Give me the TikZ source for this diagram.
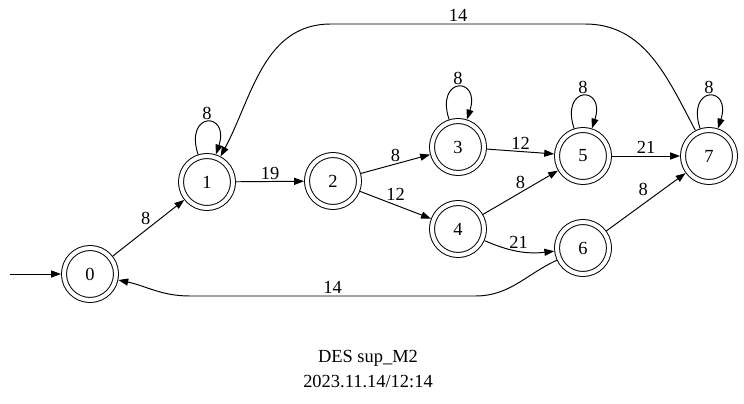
\documentclass[tikz,border=0pt]{standalone}
\usepackage{fontspec}
\setmainfont{Liberation Serif}
\usetikzlibrary{arrows.meta}
\tikzset{
  state/.style={shape=circle,draw,double,double distance=2.3pt,line width=0.55pt,minimum size=1.04cm,inner sep=0pt,outer sep=1.7pt},
  trans/.style={-{Triangle[length=5.6pt,width=4pt]},line width=0.55pt},
  lbl/.style={inner sep=1pt}
}
\begin{document}
\begin{tikzpicture}[x=0.02cm,y=0.02cm,font=\fontsize{10.5}{12}\selectfont]
\useasboundingbox (0,0) rectangle (744,403);
\node[state](q0) at (90,129){0};
\node[state](q1) at (207,221){1};
\node[state](q2) at (333,222){2};
\node[state](q3) at (458,256){3};
\node[state](q4) at (458,174){4};
\node[state](q5) at (583,247){5};
\node[state](q6) at (583,155){6};
\node[state](q7) at (709,247){7};
\coordinate(init) at (10,129);
\draw[trans] (init) -- (q0);
\draw[trans] (q0) -- (q1)node[lbl,midway,above left,shift={(4,1)}]{8};
\draw[trans] (q1) -- (q2)node[lbl,midway,above]{19};
\draw[trans] (q2) -- (q3)node[lbl,midway,above]{8};
\draw[trans] (q2) -- (q4)node[lbl,midway,above,shift={(0,2)}]{12};
\draw[trans] (q3) -- (q5)node[lbl,midway,above]{12};
\draw[trans] (q4) -- (q5)node[lbl,midway,above,shift={(0,2)}]{8};
\draw[trans] (q4) to[bend right=15] node[lbl,midway,above]{21} (q6);
\draw[trans] (q5) -- (q7)node[lbl,midway,above]{21};
\draw[trans] (q6) -- (q7)node[lbl,midway,above left,shift={(4,4)}]{8};
% self loops
\foreach \q in {q1,q3,q5,q7}
  \draw[trans] (\q) to[out=108,in=72,looseness=6.5] node[lbl,above]{8} (\q);
% long arcs
\draw[trans] (q7) to[out=118,in=0] (585,379) -- node[lbl,midway,above]{14} (331,379) to[out=180,in=62] (q1);
\draw[trans] (q6) to[out=205,in=0] (475,107) -- node[lbl,midway,above]{14} (190,107) to[out=180,in=-12] (q0);
% caption
\node(title) at (368,45){DES sup\_M2};
\node(stamp) at (368,22){2023.11.14/12:14};
\end{tikzpicture}
\end{document}
